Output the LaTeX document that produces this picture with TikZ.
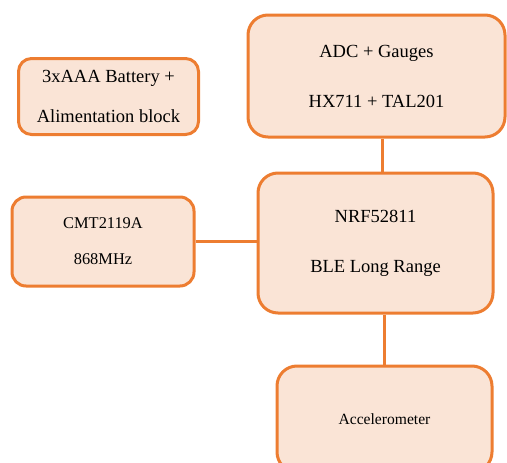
\documentclass[tikz,border=0pt]{standalone}
\usepackage{fontspec}
\setmainfont{Liberation Serif}
\definecolor{boxfill}{RGB}{250,228,214}
\definecolor{boxline}{RGB}{237,125,49}
\tikzset{
  blk/.style={draw=boxline, fill=boxfill, line width=3pt, rounded corners=#1, align=center, inner sep=0pt},
  blk/.default=14pt,
  wire/.style={draw=boxline, line width=3pt}
}
\begin{document}
\begin{tikzpicture}[x=1pt,y=-1pt]
\useasboundingbox (0,0) rectangle (507,463);
\clip (0,0) rectangle (507,463);
% Battery
\node[blk=13pt, minimum width=180pt, minimum height=76pt, font=\fontsize{18.5}{40}\selectfont] (bat) at (108.5,96.5) {3xAAA Battery +\\Alimentation block};
% ADC
\node[blk=20pt, minimum width=257pt, minimum height=122pt, font=\fontsize{18.5}{50}\selectfont] (adc) at (376.5,76) {ADC + Gauges\\HX711 + TAL201};
% CMT
\node[blk=14pt, minimum width=182pt, minimum height=89pt, font=\fontsize{16.4}{36}\selectfont] (cmt) at (103,241.5) {CMT2119A\\868MHz};
% NRF
\node[blk=20pt, minimum width=235pt, minimum height=140pt, font=\fontsize{18.5}{50}\selectfont] (nrf) at (375.5,243) {NRF52811\\BLE Long Range};
% Accelerometer (cut off at bottom)
\node[blk=20pt, minimum width=215pt, minimum height=106pt, font=\fontsize{15.6}{20}\selectfont] (acc) at (384.5,419) {Accelerometer};
% connectors
\draw[wire] (adc.south -| 382,0) -- (nrf.north -| 382,0);
\draw[wire] (cmt.east) -- (cmt.east -| nrf.west);
\draw[wire] (nrf.south -| 384,0) -- (acc.north -| 384,0);
\end{tikzpicture}
\end{document}
